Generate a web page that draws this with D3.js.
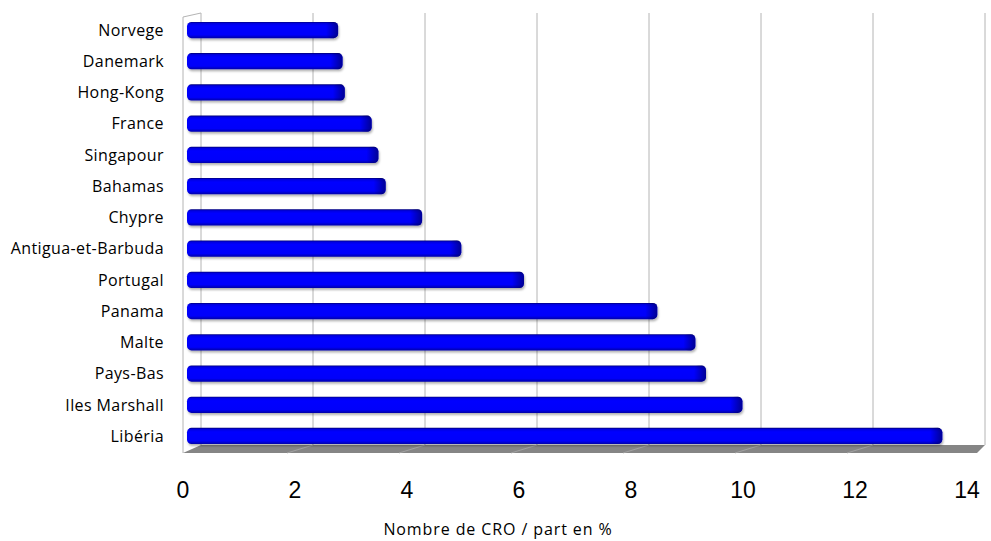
<!DOCTYPE html>
<html lang="fr">
<head>
<meta charset="UTF-8">
<title>Nombre de CRO</title>
<style>
  body { margin: 0; background: #fff; }
  svg text { fill: #000; }
</style>
</head>
<body>
<svg width="991" height="541" id="svg"></svg>
<script src="https://d3js.org/d3.v7.min.js"></script>
<script>
// data (top to bottom)
const pays = ["Norvege", "Danemark", "Hong-Kong", "France", "Singapour", "Bahamas", "Chypre",
  "Antigua-et-Barbuda", "Portugal", "Panama", "Malte", "Pays-Bas ", "Iles Marshall", "Libéria"]
const parts = [2.68, 2.76, 2.8, 3.28, 3.4, 3.53, 4.18, 4.88, 6.0, 8.38, 9.06, 9.25, 9.9, 13.47]
const ticks = [0, 2, 4, 6, 8, 10, 12, 14]
const axisTitle = "Nombre de CRO / part en %"

const svg = d3.select("svg#svg")
const depth = { dx: 18, dy: -8 }
const floorY = 453

const xScale = d3.scaleLinear().domain([0, 14]).range([183, 967])
const yScale = d3.scaleBand().domain(pays).range([14.4, 451.6])
  .paddingInner(0.48).paddingOuter(0.24)

const defs = svg.append("defs")
const gBar = defs.append("linearGradient").attr("id", "barGrad")
  .attr("x1", 0).attr("y1", 0).attr("x2", 0).attr("y2", 1)
gBar.append("stop").attr("offset", "0%").attr("stop-color", "#000078")
gBar.append("stop").attr("offset", "9%").attr("stop-color", "#0000e0")
gBar.append("stop").attr("offset", "25%").attr("stop-color", "#0000ff")
gBar.append("stop").attr("offset", "80%").attr("stop-color", "#0000fa")
gBar.append("stop").attr("offset", "100%").attr("stop-color", "#0000a8")

const gCap = defs.append("linearGradient").attr("id", "capGrad")
  .attr("x1", 0).attr("y1", 0).attr("x2", 1).attr("y2", 0)
gCap.append("stop").attr("offset", "0%").attr("stop-color", "#000050").attr("stop-opacity", 0)
gCap.append("stop").attr("offset", "100%").attr("stop-color", "#000050").attr("stop-opacity", 0.6)

const shadow = defs.append("filter").attr("id", "shadow")
  .attr("x", "-5%").attr("y", "-30%").attr("width", "110%").attr("height", "180%")
shadow.append("feDropShadow").attr("dx", 1).attr("dy", 2).attr("stdDeviation", 1.2)
  .attr("flood-color", "#000").attr("flood-opacity", 0.3)

// walls and gridlines
const wallTop = 17
const grid = svg.append("g")
grid.append("line").attr("x1", xScale(0)).attr("x2", xScale(0))
  .attr("y1", wallTop).attr("y2", floorY).attr("stroke", "#b4b4b4")
grid.append("line").attr("x1", xScale(0)).attr("x2", xScale(0) + depth.dx)
  .attr("y1", wallTop).attr("y2", wallTop + depth.dy / 2).attr("stroke", "#b4b4b4")

grid.selectAll("line.grid").data(ticks).join("line").attr("class", "grid")
  .attr("x1", d => xScale(d) + depth.dx).attr("x2", d => xScale(d) + depth.dx)
  .attr("y1", wallTop + depth.dy / 2).attr("y2", floorY + depth.dy)
  .attr("stroke", "#b4b4b4")

// floor
const x0 = xScale(0), x14 = xScale(14)
grid.append("polygon")
  .attr("points", [[x0, floorY], [x14 + 10, floorY], [x14 + depth.dx, floorY + depth.dy], [x0 + depth.dx, floorY + depth.dy]].join(" "))
  .attr("fill", "#858585")
grid.selectAll("line.fl").data(ticks.slice(1, -1)).join("line").attr("class", "fl")
  .attr("x1", d => xScale(d) - 8).attr("x2", d => xScale(d) + depth.dx)
  .attr("y1", floorY).attr("y2", floorY + depth.dy)
  .attr("stroke", "#a8a8a8").attr("stroke-width", 0.8)

// bars
const bars = svg.append("g").selectAll("g").data(pays).join("g")
bars.append("rect")
  .attr("x", xScale(0) + 4)
  .attr("y", d => yScale(d))
  .attr("width", (d, i) => xScale(parts[i]) - xScale(0) + 1)
  .attr("height", yScale.bandwidth())
  .attr("rx", 4.5)
  .attr("fill", "url(#barGrad)")
  .attr("filter", "url(#shadow)")
bars.append("rect")
  .attr("x", (d, i) => xScale(parts[i]) + 5 - 12)
  .attr("y", d => yScale(d))
  .attr("width", 12)
  .attr("height", yScale.bandwidth())
  .attr("rx", 4.5)
  .attr("fill", "url(#capGrad)")

// category labels
svg.append("g").selectAll("text").data(pays).join("text")
  .attr("x", 164)
  .attr("y", d => yScale(d) + yScale.bandwidth() / 2)
  .attr("dy", "0.36em")
  .attr("text-anchor", "end")
  .attr("font-family", "'Open Sans', sans-serif")
  .attr("font-size", 16)
  .attr("letter-spacing", 0.4)
  .text(d => d.trim())

// x axis labels
svg.append("g").selectAll("text").data(ticks).join("text")
  .attr("x", d => xScale(d))
  .attr("y", 498)
  .attr("text-anchor", "middle")
  .attr("font-family", "'Liberation Sans', Arial, sans-serif")
  .attr("font-size", 23)
  .text(d => d)

svg.append("text")
  .attr("x", 498).attr("y", 535)
  .attr("text-anchor", "middle")
  .attr("font-family", "'Open Sans', sans-serif")
  .attr("font-size", 16)
  .attr("letter-spacing", 0.9)
  .text(axisTitle)
</script>
</body>
</html>
